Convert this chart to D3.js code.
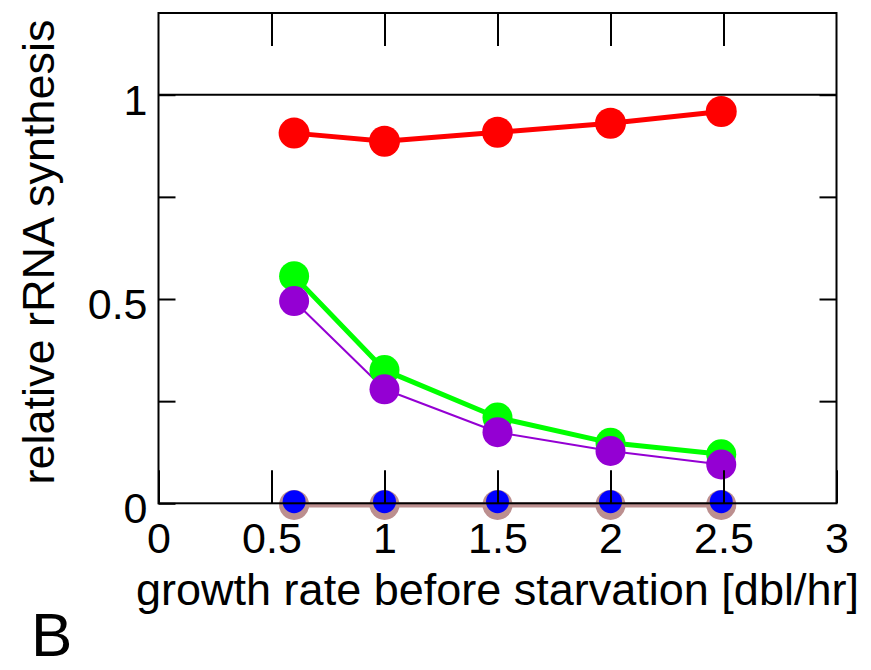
<!DOCTYPE html>
<html>
<head>
<meta charset="utf-8">
<script src="https://cdn.jsdelivr.net/npm/d3@7"></script>
<style>
  html, body { margin: 0; padding: 0; background: #fff; }
  svg { display: block; font-family: "Liberation Sans", Arial, Helvetica, sans-serif; }
</style>
</head>
<body>
<svg id="chart" width="871" height="670"></svg>
<script>
// Growth rate before starvation (doublings per hour)
const growthRates = [0.6, 1.0, 1.5, 2.0, 2.49];

// Relative rRNA synthesis for each condition
const redSeries    = [0.906, 0.886, 0.908, 0.930, 0.959];
const greenSeries  = [0.556, 0.326, 0.210, 0.148, 0.120];
const purpleSeries = [0.495, 0.279, 0.174, 0.128, 0.095];
const brownSeries  = [-0.004, -0.004, -0.004, -0.004, -0.004];
const blueSeries   = [0.004, 0.004, 0.004, 0.004, 0.004];

// Axis ticks
const xTicks = [0, 0.5, 1, 1.5, 2, 2.5, 3];
const yTicks = [0, 0.25, 0.5, 0.75, 1];
const yLabelled = [0, 0.5, 1];

const xTitle = "growth rate before starvation [dbl/hr]";
const yTitle = "relative rRNA synthesis";
const panelLabel = "B";

const svg = d3.select("#chart");
const W = 871, H = 670;
const margin = { left: 158.5, right: 34.5, top: 13, bottom: 166.7 };
const iw = W - margin.left - margin.right;
const ih = H - margin.top - margin.bottom;

const x = d3.scaleLinear().domain([0, 3]).range([margin.left, margin.left + iw]);
const y = d3.scaleLinear().domain([0, 1.2]).range([margin.top + ih, margin.top]);

const series = [
  { values: brownSeries,  color: "#bc8f8f", width: 5, r: 15,   line: true },
  { values: blueSeries,   color: "#0000ff", width: 0, r: 11.5, line: false },
  { values: redSeries,    color: "#ff0000", width: 5, r: 15.5, line: true },
  { values: greenSeries,  color: "#00ff00", width: 5, r: 15,   line: true },
  { values: purpleSeries, color: "#9400d3", width: 2, r: 15,   line: true }
];

const lineGen = d3.line().x(d => x(d[0])).y(d => y(d[1]));

// Lines first, markers above them
const plot = svg.append("g");
series.forEach(s => {
  if (!s.line) return;
  plot.append("path")
    .datum(growthRates.map((g, i) => [g, s.values[i]]))
    .attr("d", lineGen)
    .attr("fill", "none")
    .attr("stroke", s.color)
    .attr("stroke-width", s.width)
    .attr("stroke-linejoin", "round");
});
series.forEach(s => {
  plot.append("g").selectAll("circle")
    .data(growthRates.map((g, i) => [g, s.values[i]]))
    .join("circle")
    .attr("cx", d => x(d[0]))
    .attr("cy", d => y(d[1]))
    .attr("r", s.r)
    .attr("fill", s.color);
});

// Reference line at 1
svg.append("line")
  .attr("x1", x(0)).attr("x2", x(3))
  .attr("y1", y(1)).attr("y2", y(1))
  .attr("stroke", "#000").attr("stroke-width", 2);

// Axes with inward ticks
const fmt = d3.format("");
const xAxisB = d3.axisBottom(x).tickValues(xTicks).tickSize(-33).tickPadding(0).tickFormat(fmt);
const xAxisT = d3.axisTop(x).tickValues(xTicks.slice(1, -1)).tickSize(-33).tickFormat("");
const yAxisL = d3.axisLeft(y).tickValues(yTicks).tickSize(-17).tickPadding(0)
  .tickFormat(d => yLabelled.includes(d) ? fmt(d) : "");
const yAxisR = d3.axisRight(y).tickValues(yTicks.slice(1)).tickSize(-17).tickFormat("");

function styleAxis(g) {
  g.select(".domain").remove();
  g.selectAll(".tick line").attr("stroke", "#000").attr("stroke-width", 2);
  g.selectAll(".tick text").attr("fill", "#000").attr("font-family", null);
}

const gxb = svg.append("g").attr("transform", `translate(0,${y(0)})`).call(xAxisB).call(styleAxis);
gxb.selectAll(".tick text").attr("y", 49.5).attr("dy", null).attr("font-size", 43);

svg.append("g").attr("transform", `translate(0,${y(1.2)})`).call(xAxisT).call(styleAxis);

const gyl = svg.append("g").attr("transform", `translate(${x(0)},0)`).call(yAxisL).call(styleAxis);
gyl.selectAll(".tick text").attr("x", -11).attr("dy", "0.38em").attr("font-size", 43)
  .attr("transform", "translate(0,3)");

svg.append("g").attr("transform", `translate(${x(3)},0)`).call(yAxisR).call(styleAxis);

// Plot frame
svg.append("rect")
  .attr("x", x(0)).attr("y", y(1.2))
  .attr("width", x(3) - x(0)).attr("height", y(0) - y(1.2))
  .attr("fill", "none").attr("stroke", "#000").attr("stroke-width", 2);

// Titles
svg.append("text")
  .attr("x", (x(0) + x(3)) / 2).attr("y", 605)
  .attr("text-anchor", "middle").attr("font-size", 45)
  .text(xTitle);

svg.append("text")
  .attr("transform", `translate(54,${252}) rotate(-90)`)
  .attr("text-anchor", "middle").attr("font-size", 45)
  .text(yTitle);

svg.append("text")
  .attr("x", 31).attr("y", 656)
  .attr("font-size", 62)
  .text(panelLabel);
</script>
</body>
</html>
